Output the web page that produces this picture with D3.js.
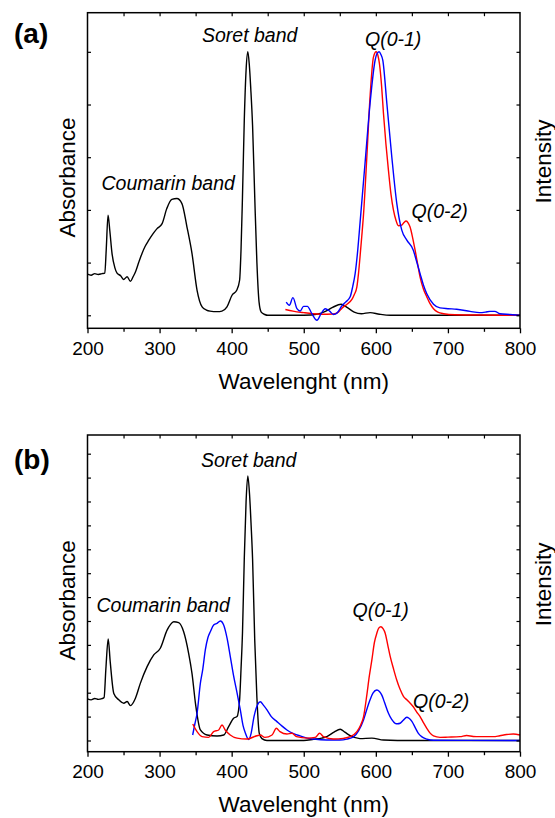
<!DOCTYPE html>
<html lang="en">
<head>
<meta charset="UTF-8">
<title>Absorbance / Intensity spectra</title>
<script src="https://d3js.org/d3.v7.min.js"></script>
<style>
  body { margin: 0; background: #fff; }
  text { font-family: "Liberation Sans", Arial, sans-serif; fill: #000; }
</style>
</head>
<body>
<svg id="main" width="555" height="818"></svg>
<script>
// ---- data: [wavelength nm, normalised value] ----
let xTickValues = [200, 300, 400, 500, 600, 700, 800];

// panel (a)
let aAbsorbance = [[200,0.156],[205,0.152],[210,0.158],[215,0.155],[220,0.158],[224,0.16],[226,0.25],[228.5,0.38],[231,0.32],[234,0.235],[238,0.18],[241,0.16],[246,0.15],[250,0.136],[255,0.146],[259.5,0.129],[263,0.145],[266.5,0.164],[271,0.2],[275.5,0.234],[280,0.262],[285,0.285],[291,0.31],[296.5,0.329],[303.5,0.348],[310,0.405],[317,0.44],[324,0.443],[331,0.424],[338,0.335],[345,0.234],[352,0.095],[359,0.032],[365,0.02],[370,0.016],[380,0.014],[386.5,0.016],[393.5,0.032],[400.5,0.076],[407,0.095],[411,0.133],[413,0.25],[415,0.45],[417.5,0.74],[420,0.93],[422.4,1.0],[424.5,0.95],[426.5,0.86],[429,0.72],[432,0.45],[435,0.2],[438,0.05],[441,0.012],[446,0.003],[450,0],[500,0],[520,0.005],[530,0.015],[540,0.03],[552,0.042],[560,0.03],[570,0.012],[580,0.006],[592,0.01],[605,0.004],[620,0],[800,0]];
let aIntensityRed = [[474.5,0.022],[485,0.016],[500,0.01],[512,0.006],[523,0.004],[541,0.005],[548,0.012],[553,0.027],[560,0.042],[566.8,0.06],[570,0.078],[573.7,0.108],[576,0.16],[578,0.22],[580.5,0.3],[583,0.386],[587.5,0.6],[592,0.83],[596.7,0.98],[600.4,1.0],[603,0.985],[605,0.955],[608,0.87],[610.6,0.766],[614,0.65],[617.5,0.55],[621,0.46],[624.4,0.4],[628,0.36],[631.3,0.34],[636,0.342],[639,0.352],[642,0.358],[645,0.35],[647.5,0.335],[651,0.295],[654.5,0.247],[658,0.195],[661.4,0.145],[666,0.1],[670.7,0.07],[675,0.045],[680,0.025],[686,0.012],[694,0.006],[710,0.002],[740,0.001],[800,0]];
let aIntensityBlue = [[475.7,0.05],[480,0.038],[485,0.067],[490.6,0.025],[495,0.016],[499.7,0.034],[505,0.034],[511.3,0.006],[518.3,-0.019],[524,0.006],[529.8,0.025],[535.8,0.016],[541.3,0.003],[546,0.008],[553,0.036],[558,0.05],[564.4,0.07],[568,0.11],[571.3,0.158],[575,0.25],[578,0.348],[585,0.576],[592,0.804],[599,0.968],[602,0.995],[604.6,1.0],[607,0.99],[609.7,0.968],[615.3,0.804],[622.2,0.6],[629.1,0.424],[636,0.323],[643,0.285],[652,0.247],[656,0.21],[661.4,0.158],[666,0.115],[670.7,0.082],[680,0.042],[689,0.028],[700,0.025],[712,0.023],[730.7,0.015],[744,0.01],[752,0.012],[758.4,0.015],[765,0.015],[772,0.006],[786,0.003],[800,0]];
let aYTicks = [0, 0.2, 0.4, 0.6, 0.8, 1.0];

// panel (b)
let bAbsorbance = [[200,0.174],[205,0.17],[210,0.176],[215,0.172],[220,0.175],[223,0.18],[225.5,0.3],[228.7,0.425],[231.5,0.33],[236.5,0.197],[243.4,0.17],[250.3,0.156],[255,0.163],[259.6,0.146],[266.5,0.177],[273.4,0.24],[282.7,0.309],[291.9,0.358],[301,0.386],[310.4,0.462],[315,0.485],[319.6,0.497],[326.5,0.493],[333.4,0.455],[340.3,0.365],[345,0.28],[350,0.15],[356.6,0.044],[365.9,0.023],[379.7,0.019],[389,0.023],[395.8,0.058],[402.7,0.093],[407.4,0.1],[411,0.17],[413,0.3],[415,0.45],[417.5,0.76],[420,1.0],[422.4,1.107],[425,1.02],[427,0.9],[429,0.76],[432,0.42],[435,0.18],[438.3,0.03],[442,0.008],[449,0],[500,0],[513.6,0.005],[525,0.01],[532,0.016],[542,0.035],[550.6,0.047],[557,0.035],[564.4,0.02],[578,0.008],[594.5,0.01],[610.5,0.002],[630,0],[800,0]];
let bIntensityBlue = [[345.9,0.023],[349,0.07],[352,0.114],[356.6,0.24],[360,0.3],[363.5,0.38],[367,0.43],[370.4,0.455],[375,0.483],[379.7,0.49],[384.3,0.5],[388.9,0.483],[393.6,0.428],[398.1,0.351],[402.7,0.27],[407.4,0.2],[412,0.128],[416,0.06],[419,0.031],[423.5,0.004],[427,0.03],[431,0.1],[436,0.15],[439.7,0.162],[444,0.148],[449,0.128],[455,0.1],[462.8,0.079],[470,0.06],[476.7,0.044],[485,0.03],[495,0.019],[505,0.01],[513.6,0.006],[532,0.002],[550,0.002],[560,0.006],[569,0.015],[576,0.04],[582.9,0.086],[588,0.135],[592,0.17],[596,0.198],[601.4,0.211],[605,0.205],[608.3,0.19],[612,0.16],[617.5,0.114],[622,0.088],[626.8,0.072],[630,0.07],[633.7,0.072],[638,0.085],[643,0.097],[646,0.093],[650,0.08],[655,0.052],[659,0.03],[664,0.015],[670.7,0.006],[680,0.001],[800,0]];
let bIntensityRed = [[346,0.069],[352,0.037],[359,0.016],[368,0.013],[375,0.037],[382,0.044],[386.6,0.065],[391,0.044],[398,0.023],[407.4,0.01],[421,0.006],[435,0.02],[439.7,0.023],[446,0.013],[456,0.023],[462,0.051],[467,0.037],[476.7,0.027],[483.6,0.03],[490,0.016],[504.5,0.01],[516,0.013],[522,0.03],[527.3,0.016],[541,0.006],[555,0.009],[564.4,0.016],[573.7,0.037],[579,0.065],[583,0.1],[587.5,0.19],[591,0.27],[594.5,0.337],[598,0.41],[601.4,0.449],[604,0.47],[607,0.476],[610,0.468],[613,0.449],[616.5,0.4],[620,0.351],[624.5,0.3],[629,0.253],[633.5,0.215],[638.3,0.185],[643,0.17],[648,0.155],[652,0.141],[656.5,0.12],[661.4,0.1],[666,0.075],[670.7,0.051],[675,0.032],[680,0.019],[689,0.013],[700,0.014],[716.8,0.016],[726,0.021],[735,0.017],[744,0.016],[763,0.016],[772,0.02],[781.4,0.025],[790.7,0.027],[800,0.023]];
let bYTicks = [0, 0.1, 0.2, 0.3, 0.4, 0.5, 0.6, 0.7, 0.8, 0.9, 1.0, 1.1, 1.2];

let svg = d3.select('svg#main');
let fontMain = '"Liberation Sans", Arial, sans-serif';

function drawPanel(opt) {
    let x = d3.scaleLinear().domain([200, 800]).range([87.5, 520]);
    let y = d3.scaleLinear().domain(opt.yDomain).range([opt.bottom, opt.top]);
    let g = svg.append('g');

    // spectra
    let line = d3.line()
        .x(function (d) { return x(d[0]); })
        .y(function (d) { return y(d[1]); })
        .curve(d3.curveMonotoneX);
    opt.series.forEach(function (s) {
        g.append('path').datum(s.data)
            .attr('d', line)
            .attr('fill', 'none')
            .attr('stroke', s.color)
            .attr('stroke-width', 1.4)
            .attr('stroke-linejoin', 'round');
    });

    // frame
    g.append('rect')
        .attr('x', x(200)).attr('y', opt.top)
        .attr('width', x(800) - x(200)).attr('height', opt.bottom - opt.top)
        .attr('fill', 'none').attr('stroke', '#000').attr('stroke-width', 1.5);

    // bottom axis: outward ticks, labels on majors
    let minor = d3.range(250, 800, 100);
    let xAxis = g.append('g').attr('transform', 'translate(0,' + opt.bottom + ')')
        .call(d3.axisBottom(x).tickValues(opt.xTicks).tickSize(5).tickPadding(8)
            .tickFormat(d3.format('d')));
    xAxis.select('.domain').remove();
    xAxis.selectAll('text').attr('font-size', 19).attr('font-family', fontMain);
    xAxis.selectAll('line').attr('stroke-width', 1.3);
    g.append('g').attr('transform', 'translate(0,' + opt.bottom + ')')
        .call(d3.axisBottom(x).tickValues(minor).tickSize(3.5).tickFormat(''))
        .call(function (a) { a.select('.domain').remove(); a.selectAll('line').attr('stroke-width', 1.3); });

    // top axis: inward ticks every 50
    g.append('g').attr('transform', 'translate(0,' + opt.top + ')')
        .call(d3.axisBottom(x).tickValues(d3.range(250, 800, 50)).tickSize(3.5).tickFormat(''))
        .call(function (a) { a.select('.domain').remove(); a.selectAll('line').attr('stroke-width', 1.2); });

    // left / right y ticks (no labels), inward
    g.append('g').attr('transform', 'translate(' + x(200) + ',0)')
        .call(d3.axisRight(y).tickValues(opt.yTicks).tickSize(3.5).tickFormat(''))
        .call(function (a) { a.select('.domain').remove(); a.selectAll('line').attr('stroke-width', 1.2); });
    g.append('g').attr('transform', 'translate(' + x(800) + ',0)')
        .call(d3.axisLeft(y).tickValues(opt.yTicks).tickSize(3.5).tickFormat(''))
        .call(function (a) { a.select('.domain').remove(); a.selectAll('line').attr('stroke-width', 1.2); });

    // axis titles
    g.append('text').text('Wavelenght (nm)')
        .attr('x', (x(200) + x(800)) / 2).attr('y', opt.bottom + 60.5)
        .attr('text-anchor', 'middle').attr('font-size', 22.5);
    g.append('text').text('Absorbance')
        .attr('transform', 'translate(75,' + ((opt.top + opt.bottom) / 2 + 7) + ') rotate(-90)')
        .attr('text-anchor', 'middle').attr('font-size', 22.5);
    g.append('text').text('Intensity')
        .attr('transform', 'translate(551,' + ((opt.top + opt.bottom) / 2 - 9) + ') rotate(-90)')
        .attr('text-anchor', 'middle').attr('font-size', 22.5);

    // panel letter
    g.append('text').text(opt.letter)
        .attr('x', 14).attr('y', opt.letterY)
        .attr('font-size', 28).attr('font-weight', 'bold');

    // band annotations
    opt.notes.forEach(function (n) {
        g.append('text').text(n.t)
            .attr('x', n.x).attr('y', n.y)
            .attr('font-size', 19.5).attr('font-style', 'italic');
    });
}

drawPanel({
    top: 12.7, bottom: 328.3, yDomain: [-0.0494, 1.1485],
    xTicks: xTickValues, yTicks: aYTicks,
    letter: '(a)', letterY: 42.5,
    series: [
        {data: aAbsorbance, color: '#000000'},
        {data: aIntensityRed, color: '#ff0000'},
        {data: aIntensityBlue, color: '#0000ff'}
    ],
    notes: [
        {t: 'Soret band', x: 202, y: 42},
        {t: 'Coumarin band', x: 101.5, y: 190},
        {t: 'Q(0-1)', x: 365, y: 46},
        {t: 'Q(0-2)', x: 411.5, y: 218}
    ]
});

drawPanel({
    top: 435, bottom: 751.7, yDomain: [-0.0469, 1.2782],
    xTicks: xTickValues, yTicks: bYTicks,
    letter: '(b)', letterY: 468.5,
    series: [
        {data: bAbsorbance, color: '#000000'},
        {data: bIntensityBlue, color: '#0000ff'},
        {data: bIntensityRed, color: '#ff0000'}
    ],
    notes: [
        {t: 'Soret band', x: 201, y: 467},
        {t: 'Coumarin band', x: 96.5, y: 611.5},
        {t: 'Q(0-1)', x: 352.5, y: 617},
        {t: 'Q(0-2)', x: 413, y: 708}
    ]
});
</script>
</body>
</html>
